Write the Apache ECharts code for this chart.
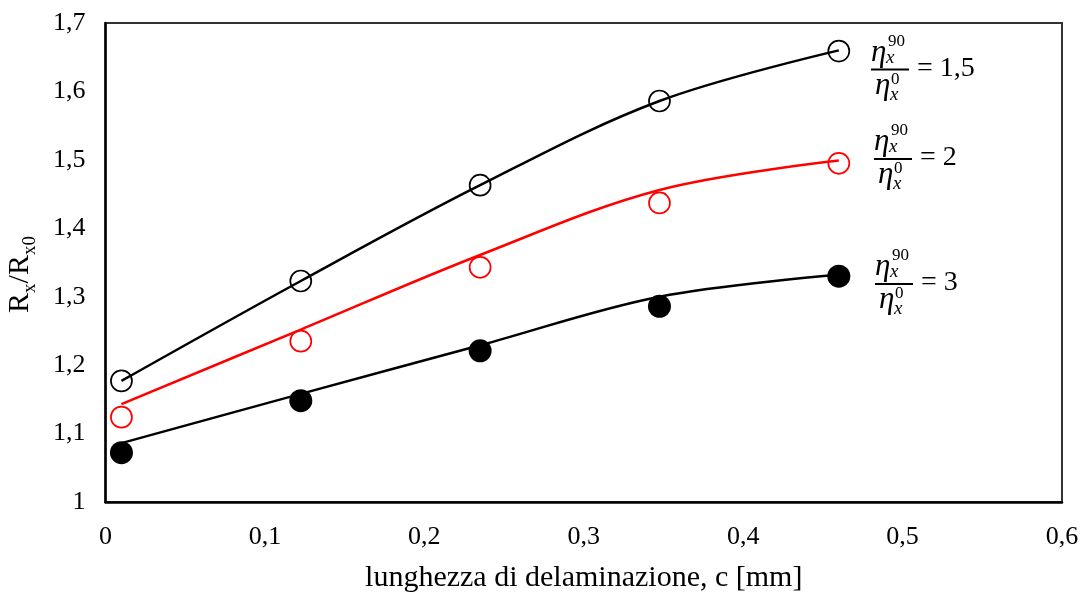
<!DOCTYPE html>
<html>
<head>
<meta charset="utf-8">
<script src="https://cdn.jsdelivr.net/npm/echarts@6/dist/echarts.min.js"></script>
<style>
html,body{margin:0;padding:0;background:#fff;}
#chart{width:1083px;height:592px;}
</style>
</head>
<body>
<div id="chart"></div>
<script>
// ---- data ----
const xValues = [0.01, 0.1225, 0.235, 0.3475, 0.46];

// measured points
const ratio15Points = [1.177, 1.323, 1.463, 1.586, 1.659];
const ratio2Points  = [1.124, 1.235, 1.343, 1.437, 1.495];
const ratio3Points  = [1.072, 1.148, 1.221, 1.286, 1.330];

// trend curves read at the same abscissae
const ratio15Trend = [1.177, 1.323, 1.463, 1.586, 1.660];
const ratio2Trend  = [1.143, 1.252, 1.361, 1.456, 1.499];
const ratio3Trend  = [1.086, 1.158, 1.229, 1.300, 1.332];

const ratioLabels = ['1,5', '2', '3'];
const xTickLabels = ['0', '0,1', '0,2', '0,3', '0,4', '0,5', '0,6'];
const yTickLabels = ['1', '1,1', '1,2', '1,3', '1,4', '1,5', '1,6', '1,7'];

const xTitle = 'lunghezza di delaminazione, c [mm]';

// ---- chart ----
const pair = (ys) => xValues.map((x, i) => [x, ys[i]]);
const serif = 'Liberation Serif';

function trendSeries(name, ys, color) {
  return {
    name: name, type: 'line', data: pair(ys), smooth: 0.35,
    showSymbol: false, symbol: 'none',
    lineStyle: { color: color, width: 2.5 }, z: 2, silent: true
  };
}
function pointSeries(name, ys, color, filled) {
  return {
    name: name, type: 'scatter', data: pair(ys),
    symbol: 'circle', symbolSize: filled ? 23 : 21,
    itemStyle: filled ? { color: color, opacity: 1 } :
      { color: 'rgba(0,0,0,0)', borderColor: color, borderWidth: 1.7, opacity: 1 },
    z: 3, silent: true
  };
}

function fracLabel(left, barY, rhs) {
  const it = { fontFamily: serif, fontStyle: 'italic', fill: '#000' };
  const rm = { fontFamily: serif, fill: '#000' };
  const t = (x, y, text, size, style) => ({
    type: 'text', x: x, y: y, silent: true,
    style: Object.assign({ text: text, fontSize: size, align: 'left', verticalAlign: 'middle' }, style)
  });
  return [
    t(left, barY - 17, 'η', 31, it),
    t(left + 17, barY - 28, '90', 17, rm),
    t(left + 15, barY - 12, 'x', 19, it),
    { type: 'line', silent: true, shape: { x1: left, y1: barY, x2: left + 38, y2: barY },
      style: { stroke: '#000', lineWidth: 2 } },
    t(left + 4, barY + 16, 'η', 31, it),
    t(left + 20, barY + 10, '0', 17, rm),
    t(left + 19, barY + 25, 'x', 19, it),
    t(left + 46, barY - 1, '= ' + rhs, 28, rm)
  ];
}

const chart = echarts.init(document.getElementById('chart'), null, { renderer: 'canvas' });
chart.setOption({
  animation: false,
  backgroundColor: '#fff',
  grid: { left: 105.5, right: 21, top: 23, bottom: 90, show: true,
          outerBoundsMode: 'none', containLabel: false,
          borderColor: '#333', borderWidth: 2, backgroundColor: 'transparent' },
  xAxis: {
    type: 'value', min: 0, max: 0.6, interval: 0.1,
    axisLine: { show: true, lineStyle: { color: '#000', width: 2.5 } },
    axisTick: { show: false }, splitLine: { show: false },
    axisLabel: { color: '#000', fontFamily: serif, fontSize: 26, margin: 22,
      formatter: (v) => xTickLabels[Math.round(v * 10)] },
    name: xTitle, nameLocation: 'middle', nameGap: 61,
    nameTextStyle: { color: '#000', fontFamily: serif, fontSize: 30 }
  },
  yAxis: {
    type: 'value', min: 1, max: 1.7, interval: 0.1,
    axisLine: { show: true, lineStyle: { color: '#000', width: 2.5 } },
    axisTick: { show: false }, splitLine: { show: false },
    axisLabel: { color: '#000', fontFamily: serif, fontSize: 26, margin: 20,
      formatter: (v) => yTickLabels[Math.round((v - 1) * 10)] },
    name: '{m|R}{s|x}{m|/R}{s|x0}', nameLocation: 'middle', nameGap: 66,
    nameTextStyle: { color: '#000', fontFamily: serif, fontSize: 30, padding: [0, 24, 0, 0],
      rich: {
        m: { fontFamily: serif, fontSize: 30, lineHeight: 34, color: '#000', verticalAlign: 'top' },
        s: { fontFamily: serif, fontSize: 19, lineHeight: 19, color: '#000', verticalAlign: 'bottom' }
      } }
  },
  series: [
    trendSeries('t15', ratio15Trend, '#000'),
    trendSeries('t2', ratio2Trend, '#ff0000'),
    trendSeries('t3', ratio3Trend, '#000'),
    pointSeries('p15', ratio15Points, '#000', false),
    pointSeries('p2', ratio2Points, '#ff0000', false),
    pointSeries('p3', ratio3Points, '#000', true)
  ],
  graphic: [].concat(
    fracLabel(871, 69.5, ratioLabels[0]),
    fracLabel(874, 159, ratioLabels[1]),
    fracLabel(875, 284, ratioLabels[2])
  )
});
</script>
</body>
</html>
